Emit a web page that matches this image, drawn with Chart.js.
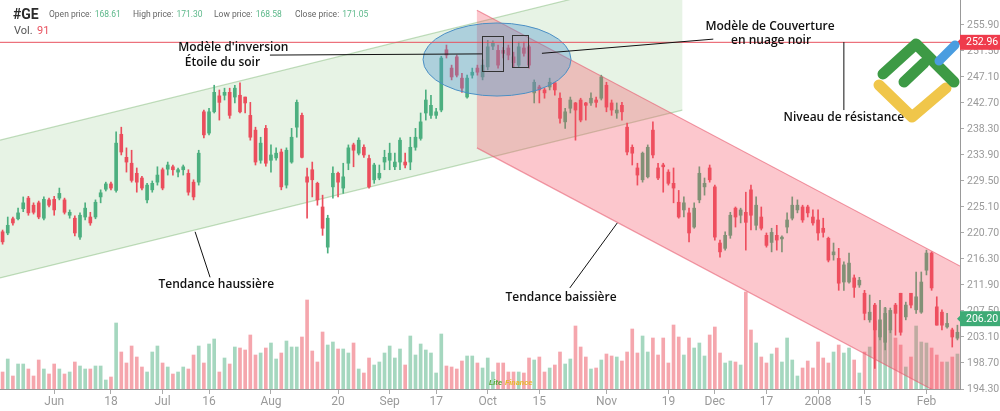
<!DOCTYPE html>
<html>
<head>
<meta charset="utf-8">
<script src="https://cdn.jsdelivr.net/npm/chart.js@4.4.0/dist/chart.umd.min.js"></script>
<style>
  html, body { margin: 0; padding: 0; background: #fff; }
</style>
</head>
<body>
<canvas id="myChart" width="1000" height="411"></canvas>
<script>
// trading calendar (NYSE), May 2007 - Feb 2008
const firstDay = "2007-05-17";
const lastDay = "2008-02-11";
const holidays = ["2007-05-28", "2007-07-04", "2007-09-03", "2007-11-22", "2007-12-25", "2008-01-01", "2008-01-21"];

const tickDates = ["2007-06-01", "2007-06-18", "2007-07-02", "2007-07-16", "2007-08-01", "2007-08-20", "2007-09-04", "2007-09-17",
    "2007-10-01", "2007-10-15", "2007-11-01", "2007-11-19", "2007-12-03", "2007-12-17", "2008-01-02", "2008-01-15", "2008-02-01"];
const tickLabels = ["Jun", "18", "Jul", "16", "Aug", "20", "Sep", "17", "Oct", "15", "Nov", "19", "Dec", "17", "2008", "15", "Feb"];
const priceTicks = [194.3, 198.7, 203.1, 207.5, 211.9, 216.3, 220.7, 225.1, 229.5, 233.9, 238.3, 242.7, 247.1, 251.5, 255.9];

const openP = [
    220.9, 220.7, 223.1, 223.1, 224.8, 226.6, 225.4, 225.8, 223.2, 226.3,
    226.4, 226.6, 226.3, 223.7, 223.2, 220.0, 223.4, 223.4, 223.4, 226.8,
    228.1, 229.0, 227.9, 237.4, 233.5, 232.5, 230.8, 230.0, 226.3, 228.0,
    229.3, 231.4, 231.5, 231.9, 231.0, 231.4, 230.8, 229.3, 229.3, 241.2,
    237.6, 241.2, 243.9, 244.0, 244.5, 243.7, 244.0, 243.7, 240.6, 238.1,
    233.0, 238.4, 233.0, 233.4, 234.4, 228.8, 232.7, 238.6, 240.6, 230.2,
    231.4, 229.1, 225.1, 218.3, 228.5, 230.8, 228.3, 232.5, 235.6, 234.2,
    235.2, 233.3, 229.7, 230.0, 232.7, 233.0, 231.9, 232.7, 232.7, 232.7,
    235.2, 236.7, 241.0, 240.6, 240.6, 241.5, 251.7, 248.6, 250.5, 246.9,
    243.7, 247.4, 248.6, 247.1, 248.8, 252.3, 251.6, 251.6, 252.0, 250.5,
    249.1, 252.0, 252.2, 244.4, 245.4, 244.9, 245.4, 246.1, 243.5, 239.5,
    241.8, 242.7, 243.2, 242.7, 242.7, 243.2, 243.5, 245.7, 242.7, 241.0,
    242.3, 238.6, 235.2, 231.7, 229.7, 230.2, 238.1, 231.7, 232.2, 231.0,
    229.1, 225.9, 224.6, 224.1, 221.7, 226.3, 228.5, 231.7, 228.5, 219.0,
    218.1, 220.3, 224.9, 223.7, 224.2, 228.0, 222.0, 223.4, 220.3, 219.1,
    220.3, 219.7, 221.7, 223.2, 224.6, 225.1, 225.1, 223.4, 222.9, 221.5,
    219.8, 217.0, 216.4, 212.4, 212.4, 213.1, 211.9, 210.5, 206.0, 208.5,
    203.1, 202.2, 204.3, 208.5, 210.5, 206.5, 210.5, 207.7, 207.3, 214.4,
    217.3, 208.2, 207.3, 204.8, 204.3, 202.9
];
const highP = [
    221.2, 223.4, 223.4, 224.9, 226.8, 226.9, 225.8, 226.1, 226.8, 226.6,
    226.9, 228.3, 226.6, 224.6, 223.6, 224.1, 225.8, 224.2, 226.3, 228.0,
    229.3, 229.3, 237.8, 238.6, 235.1, 234.7, 231.7, 230.3, 229.1, 229.5,
    231.9, 231.7, 232.7, 232.2, 231.7, 232.2, 231.4, 229.7, 234.7, 241.5,
    241.8, 245.7, 244.9, 245.2, 245.2, 245.7, 246.1, 243.7, 242.8, 238.6,
    236.9, 238.9, 235.6, 235.1, 234.9, 235.1, 238.4, 243.2, 241.0, 231.7,
    232.7, 229.3, 227.1, 223.7, 231.9, 231.0, 232.5, 235.6, 235.9, 236.8,
    235.6, 233.9, 232.5, 232.2, 234.7, 235.9, 234.2, 236.8, 234.2, 236.9,
    238.4, 241.0, 244.9, 244.0, 241.8, 250.6, 252.5, 249.1, 250.8, 247.7,
    247.4, 248.6, 249.1, 250.0, 253.3, 253.2, 252.5, 252.1, 252.5, 251.3,
    253.0, 253.0, 252.5, 246.6, 245.7, 245.2, 246.9, 246.2, 244.4, 241.8,
    243.7, 242.8, 243.5, 242.8, 244.4, 243.7, 247.4, 246.2, 243.2, 242.7,
    242.8, 239.3, 235.6, 232.5, 234.4, 235.6, 239.5, 232.5, 232.5, 231.4,
    231.7, 227.9, 226.8, 224.9, 225.8, 231.9, 230.0, 232.2, 228.8, 219.5,
    220.9, 224.2, 225.1, 224.9, 227.6, 228.8, 226.8, 225.1, 220.7, 221.5,
    222.0, 220.2, 224.1, 226.8, 226.3, 225.4, 225.4, 224.6, 224.6, 223.2,
    220.0, 219.0, 218.1, 215.8, 217.3, 213.6, 213.2, 211.0, 210.2, 208.8,
    209.3, 208.1, 208.0, 208.8, 210.5, 209.0, 210.5, 214.1, 214.1, 217.8,
    217.5, 209.9, 207.7, 207.1, 204.6, 205.1
];
const lowP = [
    218.8, 220.4, 222.0, 222.9, 224.3, 223.7, 223.9, 223.1, 222.9, 225.1,
    223.7, 226.3, 223.9, 223.2, 220.2, 219.6, 222.9, 222.0, 223.1, 225.8,
    227.8, 228.0, 227.6, 233.9, 231.0, 229.3, 227.6, 228.0, 225.8, 227.6,
    228.8, 228.0, 230.5, 230.5, 230.2, 230.5, 227.1, 226.3, 228.8, 236.8,
    237.3, 241.0, 239.8, 243.2, 240.1, 242.7, 241.0, 241.0, 236.4, 232.2,
    232.5, 232.0, 231.0, 233.0, 228.0, 228.3, 232.5, 236.9, 233.4, 223.2,
    226.8, 225.4, 220.3, 217.3, 226.6, 226.8, 227.4, 231.4, 231.9, 233.9,
    233.5, 228.3, 229.1, 229.7, 231.4, 231.4, 231.4, 231.4, 231.7, 231.4,
    234.7, 236.4, 239.8, 240.1, 240.1, 241.2, 250.3, 246.6, 247.1, 244.5,
    243.5, 246.9, 247.4, 246.6, 248.3, 251.7, 248.6, 250.3, 250.0, 248.8,
    248.8, 250.6, 248.6, 242.7, 242.7, 243.5, 244.9, 244.0, 239.3, 238.4,
    241.0, 236.4, 239.5, 239.8, 242.3, 242.0, 243.2, 241.2, 240.6, 240.1,
    239.8, 233.9, 232.2, 228.8, 229.3, 230.0, 233.4, 229.7, 227.6, 228.8,
    225.8, 223.2, 223.4, 219.2, 221.5, 225.8, 227.1, 229.3, 219.5, 216.6,
    217.8, 219.8, 221.7, 222.4, 217.8, 221.2, 221.2, 221.2, 218.3, 217.5,
    217.8, 217.5, 220.7, 222.9, 224.1, 222.5, 223.4, 222.0, 219.5, 220.0,
    215.8, 216.1, 211.0, 211.0, 212.2, 209.8, 211.5, 206.0, 205.6, 197.8,
    202.6, 200.9, 203.8, 203.4, 203.4, 206.0, 208.0, 207.1, 207.1, 213.6,
    211.0, 205.1, 204.3, 204.6, 201.4, 202.6
];
const closeP = [
    219.2, 222.0, 222.4, 224.1, 225.8, 224.1, 224.2, 223.4, 226.4, 225.4,
    224.6, 227.4, 224.2, 224.2, 220.7, 223.7, 224.9, 222.4, 225.9, 227.5,
    229.0, 228.3, 235.9, 234.4, 232.7, 229.6, 229.3, 228.3, 228.8, 229.1,
    230.5, 228.3, 232.2, 231.4, 231.4, 231.9, 227.6, 226.8, 234.2, 237.3,
    241.2, 244.5, 242.8, 244.5, 240.6, 245.2, 241.2, 242.7, 236.9, 232.7,
    235.9, 232.5, 233.9, 234.2, 228.5, 234.7, 236.9, 242.8, 233.5, 229.3,
    229.7, 226.3, 221.5, 223.2, 230.8, 229.3, 230.2, 235.1, 234.7, 236.4,
    233.9, 228.5, 232.2, 230.8, 233.5, 234.2, 232.7, 236.4, 232.2, 235.2,
    236.9, 239.5, 243.2, 242.3, 241.2, 250.3, 250.8, 247.1, 247.4, 245.2,
    246.9, 247.9, 247.9, 249.1, 252.2, 252.8, 249.1, 251.1, 250.8, 249.5,
    252.2, 251.1, 249.1, 246.2, 244.9, 244.4, 246.2, 244.9, 240.1, 241.2,
    243.2, 241.5, 239.8, 242.3, 243.5, 242.8, 247.1, 242.0, 241.5, 241.5,
    241.2, 234.4, 234.2, 230.5, 234.2, 235.2, 233.9, 230.0, 231.9, 229.1,
    228.3, 223.4, 225.8, 220.7, 224.9, 230.8, 229.1, 229.7, 220.0, 217.5,
    220.3, 223.7, 223.4, 224.6, 222.5, 223.7, 225.4, 221.5, 218.6, 220.8,
    219.5, 220.0, 222.9, 225.4, 225.4, 222.9, 224.1, 222.4, 220.7, 220.8,
    216.1, 217.5, 212.2, 215.3, 215.6, 211.5, 212.7, 207.1, 207.3, 204.3,
    206.0, 207.1, 207.6, 207.1, 203.9, 208.5, 208.5, 209.9, 212.4, 217.3,
    211.4, 205.1, 205.1, 205.4, 203.1, 203.9
];
const volume = [
    17, 30, 13, 25, 25, 20, 13, 29, 20, 15,
    25, 20, 15, 17, 27, 23, 20, 20, 23, 23,
    9, 12, 66, 37, 26, 43, 32, 22, 17, 37,
    43, 26, 22, 15, 17, 22, 20, 34, 43, 26,
    45, 50, 17, 31, 25, 42, 41, 39, 54, 34,
    36, 41, 46, 30, 36, 48, 42, 42, 52, 89,
    38, 27, 57, 44, 47, 40, 40, 36, 46, 20,
    16, 31, 24, 27, 36, 43, 31, 40, 24, 53,
    34, 45, 39, 36, 16, 55, 23, 22, 20, 28,
    33, 33, 26, 21, 31, 17, 26, 26, 17, 17,
    17, 16, 31, 29, 32, 17, 21, 24, 37, 25,
    30, 63, 42, 32, 20, 21, 29, 35, 33, 32,
    28, 37, 60, 36, 53, 37, 51, 34, 51, 26,
    64, 52, 34, 51, 41, 46, 33, 54, 62, 36,
    26, 28, 27, 24, 97, 59, 46, 32, 26, 35,
    41, 27, 51, 29, 13, 21, 28, 21, 47, 31,
    26, 37, 44, 36, 41, 29, 16, 37, 42, 68,
    59, 81, 59, 51, 44, 22, 32, 63, 47, 46,
    41, 34, 27, 27, 32, 35
];

const resistance = 252.96;
const lastPrice = 206.20;

// annotation geometry in [index, price]
const upChannelTop = [[-0.5, 236.4], [131.7, 264.9]];
const upChannelBottom = [[-0.5, 213.1], [131.7, 241.5]];
const downChannelTop = [[91.9, 258.4], [185.5, 215.1]];
const downChannelBottom = [[91.9, 235.1], [185.5, 191.7]];
const patternEllipse = { center: [95.8, 250.05], rx: 14.34, ry: 6.18 };
const patternBoxes = [[92.9, 254.0, 97.0, 248.1], [98.7, 254.2, 101.8, 248.8]];
const leaders = [
    [[51.8, 250.8], [92.9, 251.0]],
    [[104.5, 251.1], [137.7, 253.5]],
    [[163.0, 253.0], [163.0, 241.5]],
    [[37.3, 220.9], [40.2, 213.2]],
    [[109.9, 211.4], [119.1, 222.4]]
];
const notes = [
    ["Modèle d'inversion", 44.7, 252.1],
    ["Étoile du soir", 42.6, 249.6],
    ["Modèle de Couverture", 148.7, 255.7],
    ["en nuage noir", 148.9, 253.3],
    ["Niveau de résistance", 163.0, 240.3],
    ["Tendance haussière", 41.4, 211.9],
    ["Tendance baissière", 108.2, 209.7]
];

function buildDays() {
    const out = [];
    const d = new Date(firstDay + "T00:00:00Z");
    const end = new Date(lastDay + "T00:00:00Z");
    while (d <= end) {
        const s = d.toISOString().slice(0, 10);
        const wd = d.getUTCDay();
        if (wd !== 0 && wd !== 6 && !holidays.includes(s)) out.push(s);
        d.setUTCDate(d.getUTCDate() + 1);
    }
    return out;
}
const days = buildDays();

const UP = "#4caf7f", DOWN = "#eb4d5c";
const candleColors = openP.map((o, i) => closeP[i] >= o ? UP : DOWN);
const volColors = openP.map((o, i) => closeP[i] >= o ? "rgba(76,175,127,0.5)" : "rgba(235,77,92,0.5)");

const overlay = {
    id: "overlay",
    beforeDatasetsDraw(chart) {
        const { ctx, chartArea: a, scales: { x, y } } = chart;
        const pt = (p) => [x.getPixelForValue(p[0]), y.getPixelForValue(p[1])];
        ctx.save();
        ctx.beginPath();
        ctx.rect(a.left, a.top, a.right - a.left, a.bottom - a.top);
        ctx.clip();
        const t0 = pt(upChannelTop[0]), t1 = pt(upChannelTop[1]);
        const b0 = pt(upChannelBottom[0]), b1 = pt(upChannelBottom[1]);
        ctx.beginPath();
        ctx.moveTo(...t0); ctx.lineTo(...t1); ctx.lineTo(...b1); ctx.lineTo(...b0);
        ctx.closePath();
        ctx.fillStyle = "rgba(120,190,110,0.18)";
        ctx.fill();
        ctx.strokeStyle = "rgba(120,180,110,0.45)";
        ctx.lineWidth = 1.2;
        ctx.beginPath(); ctx.moveTo(...t0); ctx.lineTo(...t1); ctx.stroke();
        ctx.beginPath(); ctx.moveTo(...b0); ctx.lineTo(...b1); ctx.stroke();
        ctx.restore();
    },
    afterDatasetsDraw(chart) {
        const { ctx, chartArea: a, scales: { x, y } } = chart;
        const pt = (p) => [x.getPixelForValue(p[0]), y.getPixelForValue(p[1])];
        ctx.save();
        ctx.beginPath();
        ctx.rect(a.left, a.top, a.right - a.left, a.bottom - a.top);
        ctx.clip();

        // bearish channel
        const t0 = pt(downChannelTop[0]), t1 = pt(downChannelTop[1]);
        const b0 = pt(downChannelBottom[0]), b1 = pt(downChannelBottom[1]);
        ctx.beginPath();
        ctx.moveTo(...t0); ctx.lineTo(...t1); ctx.lineTo(...b1); ctx.lineTo(...b0);
        ctx.closePath();
        ctx.fillStyle = "rgba(246,80,100,0.32)";
        ctx.fill();
        ctx.strokeStyle = "rgba(230,90,110,0.6)";
        ctx.lineWidth = 1.2;
        ctx.beginPath(); ctx.moveTo(...t0); ctx.lineTo(...t1); ctx.stroke();
        ctx.beginPath(); ctx.moveTo(...b0); ctx.lineTo(...b1); ctx.stroke();

        // pattern ellipse
        const c = pt(patternEllipse.center);
        const rx = Math.abs(x.getPixelForValue(patternEllipse.center[0] + patternEllipse.rx) - c[0]);
        const ry = Math.abs(y.getPixelForValue(patternEllipse.center[1] + patternEllipse.ry) - c[1]);
        ctx.beginPath();
        ctx.ellipse(c[0], c[1], rx, ry, 0, 0, Math.PI * 2);
        ctx.fillStyle = "rgba(80,150,205,0.38)";
        ctx.fill();
        ctx.strokeStyle = "#4a8fc4";
        ctx.lineWidth = 1;
        ctx.stroke();

        // resistance line
        const ry0 = y.getPixelForValue(resistance);
        ctx.strokeStyle = "#e8515f";
        ctx.lineWidth = 1;
        ctx.beginPath(); ctx.moveTo(a.left, ry0); ctx.lineTo(a.right, ry0); ctx.stroke();

        // pattern boxes
        ctx.strokeStyle = "#333";
        patternBoxes.forEach(bx => {
            const p0 = pt([bx[0], bx[1]]), p1 = pt([bx[2], bx[3]]);
            ctx.strokeRect(Math.round(p0[0]) + 0.5, Math.round(p0[1]) + 0.5, Math.round(p1[0] - p0[0]), Math.round(p1[1] - p0[1]));
        });

        // leader lines
        ctx.strokeStyle = "#111";
        ctx.lineWidth = 1;
        leaders.forEach(l => {
            ctx.beginPath(); ctx.moveTo(...pt(l[0])); ctx.lineTo(...pt(l[1])); ctx.stroke();
        });

        // notes
        ctx.fillStyle = "#111";
        ctx.font = '600 12px "Open Sans"';
        ctx.textAlign = "center";
        ctx.textBaseline = "middle";
        notes.forEach(n => {
            const p = pt([n[1], n[2]]);
            ctx.fillText(n[0], p[0], p[1]);
        });
        ctx.restore();
    },
    afterDraw(chart) {
        const { ctx, chartArea: a, scales: { y } } = chart;
        ctx.save();
        // price labels on the axis
        const tag = (v, bg) => {
            const py = y.getPixelForValue(v);
            ctx.fillStyle = bg;
            ctx.fillRect(a.right, py - 7.5, 40, 15);
            ctx.beginPath();
            ctx.moveTo(a.right - 3, py); ctx.lineTo(a.right + 1, py - 4); ctx.lineTo(a.right + 1, py + 4);
            ctx.fill();
            ctx.fillStyle = "#fff";
            ctx.font = '10.5px Roboto';
            ctx.textAlign = "left";
            ctx.textBaseline = "middle";
            ctx.fillText(v.toFixed(2), a.right + 6, py + 0.5);
        };
        tag(resistance, "#ef3b4c");
        tag(lastPrice, "#3eab76");

        // logo
        ctx.lineCap = "round";
        ctx.lineJoin = "round";
        ctx.lineWidth = 11;
        ctx.strokeStyle = "#f0c64a";
        ctx.beginPath(); ctx.moveTo(879, 85); ctx.lineTo(912, 117); ctx.lineTo(946, 88); ctx.stroke();
        ctx.strokeStyle = "#3d9a45";
        ctx.beginPath(); ctx.moveTo(883, 74); ctx.lineTo(916, 44); ctx.lineTo(954, 82); ctx.stroke();
        ctx.beginPath(); ctx.moveTo(904, 82); ctx.lineTo(924, 63); ctx.stroke();
        ctx.strokeStyle = "#4a9de0";
        ctx.lineWidth = 9;
        ctx.beginPath(); ctx.moveTo(939, 61); ctx.lineTo(955, 45); ctx.stroke();

        // watermark
        ctx.font = 'italic bold 8px Roboto';
        ctx.textAlign = "left";
        ctx.textBaseline = "middle";
        ctx.fillStyle = "#5aab3c";
        ctx.fillText("Lite", 489, 383);
        ctx.fillStyle = "#e8b830";
        ctx.fillText("Finance", 505, 383);

        // header
        ctx.textBaseline = "alphabetic";
        ctx.fillStyle = "#2b2b2b";
        ctx.font = 'bold 14px Roboto';
        ctx.fillText("#GE", 13, 19);
        const info = [["Open price:", "168.61", 49], ["High price:", "171.30", 133], ["Low price:", "168.58", 214], ["Close price:", "171.05", 295]];
        info.forEach(([k, v, px]) => {
            ctx.font = '8.5px Roboto';
            ctx.fillStyle = "#666";
            ctx.fillText(k, px, 17);
            const w = ctx.measureText(k).width;
            ctx.fillStyle = "#5cb88a";
            ctx.fillText(v, px + w + 3, 17);
        });
        ctx.font = '11px Roboto';
        ctx.fillStyle = "#555";
        ctx.fillText("Vol.", 14, 34);
        ctx.fillStyle = "#e8515f";
        ctx.fillText("91", 37, 34);
        ctx.restore();
    }
};

const noPad = (s) => { s.paddingTop = 0; s.paddingBottom = 0; s.paddingLeft = 0; s.paddingRight = 0; };

const ctx = document.getElementById("myChart").getContext("2d");
const myChart = new Chart(ctx, {
    type: "bar",
    data: {
        labels: days,
        datasets: [
            {
                label: "body",
                data: openP.map((o, i) => [o, closeP[i]]),
                backgroundColor: candleColors,
                barThickness: 3,
                minBarLength: 1,
                grouped: false,
                order: 1,
                yAxisID: "y",
            },
            {
                label: "wick",
                data: lowP.map((l, i) => [l, highP[i]]),
                backgroundColor: candleColors,
                barThickness: 1,
                grouped: false,
                order: 2,
                yAxisID: "y",
            },
            {
                label: "volume",
                data: volume,
                backgroundColor: volColors,
                barThickness: 3,
                grouped: false,
                order: 3,
                yAxisID: "vol",
            },
        ],
    },
    options: {
        responsive: false,
        animation: false,
        events: [],
        layout: { padding: 0 },
        plugins: { legend: { display: false }, tooltip: { enabled: false } },
        scales: {
            x: {
                offset: true,
                grid: { offset: false, drawOnChartArea: false, tickLength: 5, color: "#aaa" },
                border: { color: "#999" },
                ticks: {
                    autoSkip: false,
                    maxRotation: 0,
                    padding: 1,
                    color: "#9a9a9a",
                    font: { family: "Roboto", size: 12 },
                    callback: (v) => tickLabels[tickDates.indexOf(days[v])],
                },
                afterBuildTicks: (s) => {
                    s.ticks = tickDates.map(d => ({ value: days.indexOf(d) }));
                },
                afterFit: (s) => { s.height = 22; noPad(s); },
            },
            y: {
                position: "right",
                min: 194.3,
                max: 260.12,
                grid: { drawOnChartArea: false, tickLength: 4, color: "#aaa" },
                border: { color: "#999" },
                ticks: {
                    padding: 3,
                    color: "#9a9a9a",
                    font: { family: "Roboto", size: 10.5 },
                    callback: (v) => v.toFixed(2),
                },
                afterBuildTicks: (s) => {
                    s.ticks = priceTicks.map(v => ({ value: v }));
                },
                afterFit: (s) => { s.width = 40; noPad(s); },
            },
            vol: { display: false, min: 0, max: 389 },
        },
    },
    plugins: [overlay],
});
</script>
</body>
</html>
